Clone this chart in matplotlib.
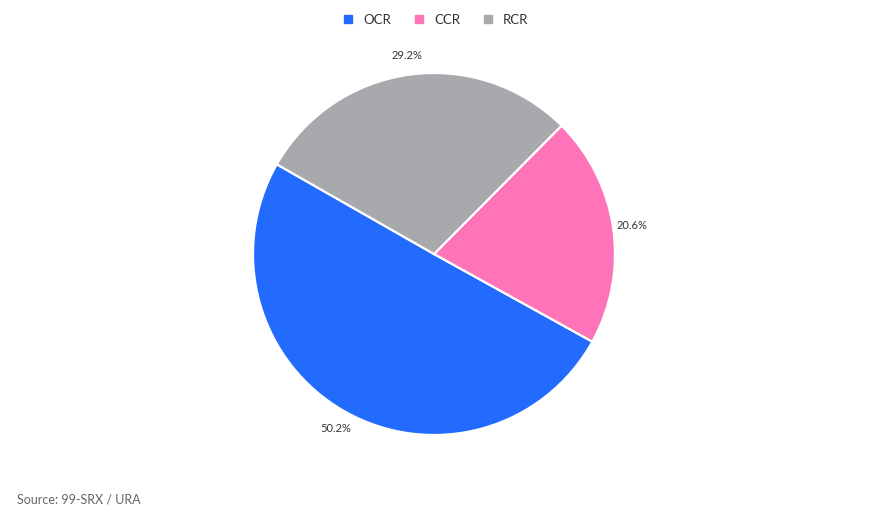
'''
Pie chart of transactions by region (OCR / CCR / RCR)
'''

import matplotlib as mpl
import matplotlib.pyplot as plt

mpl.rcParams['font.family'] = ['Lato', 'DejaVu Sans']

# data
regions = ['OCR', 'CCR', 'RCR']
shares = [50.2, 20.6, 29.2]
colors = ['#236BFE', '#FF74B8', '#A8A9AD']

W, H = 869, 522
fig = plt.figure(figsize=(W / 100, H / 100), dpi=100)

# pie centre and radius in pixels
cx, cy, r = 434, 254, 181
ax = fig.add_axes([(cx - r) / W, (H - cy - r) / H, 2 * r / W, 2 * r / H])

wedges, texts = ax.pie(
    shares,
    colors=colors,
    startangle=150.3,
    counterclock=True,
    radius=1,
    labels=['%.1f%%' % s for s in shares],
    labeldistance=1.105,
    wedgeprops=dict(edgecolor='white', linewidth=1.6),
    textprops=dict(fontsize=8, color='#333333'))
for t in texts:
    t.set_horizontalalignment('center')
    t.set_verticalalignment('center')
ax.set_xlim(-1, 1)
ax.set_ylim(-1, 1)
ax.set_aspect('equal')
ax.axis('off')

# legend along the top
leg = fig.legend(
    handles=[plt.Line2D([], [], marker='s', linestyle='none', markersize=5.5,
                        markerfacecolor=c, markeredgecolor=c) for c in colors],
    labels=regions,
    loc='center',
    bbox_to_anchor=(435 / W, 1 - 20 / H),
    ncol=3,
    frameon=False,
    fontsize=9.5,
    handlelength=1.0,
    handletextpad=0.65,
    columnspacing=1.6)
for t in leg.get_texts():
    t.set_color('#333333')

# source note
fig.text(17 / W, 1 - 500 / H, 'Source: 99-SRX / URA', fontsize=9,
         color='#666666', ha='left', va='center')

fig.savefig('out.png', dpi=100, facecolor='white')
